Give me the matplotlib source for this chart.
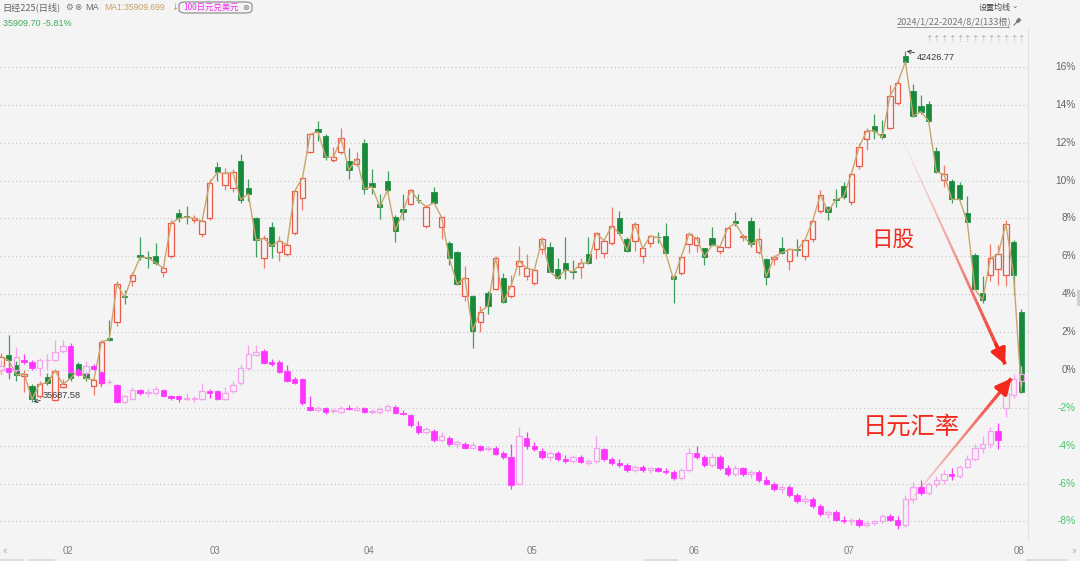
import numpy as np
import matplotlib
matplotlib.use('Agg')
import matplotlib.pyplot as plt
from matplotlib.collections import LineCollection
import matplotlib.transforms as mtransforms
from matplotlib.patches import FancyBboxPatch, Polygon, Rectangle

plt.rcParams['font.family'] = ['Noto Sans CJK SC', 'DejaVu Sans']

# ---------------- data (percent change vs. base) ----------------
nk_open = [0.0, 0.8, 0.26, -0.3, -0.85, -1.4, -0.35, -1.58, -0.88, -0.18,
           0.3, -0.18, -0.84, -0.7, 1.7, 2.55, 3.93, 4.71, 6.07, 5.97,
           6.0, 5.17, 6.0, 8.27, 8.12, 7.92, 7.2, 8.0, 10.7, 9.77,
           9.6, 11.05, 9.6, 8.0, 5.9, 7.57, 6.25, 6.12, 7.22, 9.07,
           11.53, 12.7, 12.35, 11.07, 11.53, 11.05, 10.88, 11.97, 9.86, 8.76,
           9.98, 8.06, 8.48, 8.75, 9.0, 7.62, 9.4, 7.53, 6.72, 6.25,
           3.92, 3.91, 2.55, 4.08, 4.26, 4.84, 3.9, 5.49, 4.96, 4.6,
           6.39, 6.51, 5.32, 5.63, 5.25, 5.42, 6.11, 6.37, 6.16, 6.72,
           8.0, 6.9, 6.83, 6.0, 6.72, 7.04, 7.07, 4.96, 5.14, 6.63,
           6.6, 6.42, 6.95, 6.28, 6.51, 7.87, 7.0, 7.88, 6.25, 5.85,
           5.85, 6.42, 5.77, 6.37, 6.0, 6.9, 8.4, 8.59, 9.05, 9.71,
           8.89, 10.77, 12.18, 12.88, 12.46, 12.76, 14.11, 16.58, 14.75, 13.94,
           14.04, 11.58, 10.03, 10.0, 9.77, 8.27, 6.07, 4.08, 5.02, 5.31,
           5.02, 6.77, 3.08]
nk_high = [0.9, 1.85, 0.45, 0.0, -0.75, -0.6, -0.18, 0.05, -0.5, 0.0,
           0.4, -0.1, -0.45, 1.6, 2.64, 4.68, 4.2, 5.2, 7.04, 6.3,
           6.7, 5.45, 7.9, 8.48, 8.66, 8.2, 7.95, 10.1, 10.98, 10.65,
           10.6, 11.4, 10.1, 8.1, 7.15, 7.8, 7.05, 6.75, 9.5, 10.2,
           12.5, 13.16, 12.45, 11.8, 12.76, 11.7, 11.5, 12.2, 10.6, 9.3,
           10.5, 8.2, 9.3, 9.55, 9.3, 8.7, 9.65, 8.1, 6.8, 6.3,
           5.5, 3.95, 3.4, 4.15, 6.0, 5.1, 5.0, 6.55, 6.1, 5.3,
           7.04, 6.75, 5.9, 7.0, 5.8, 5.9, 7.0, 7.3, 6.9, 8.62,
           8.4, 7.0, 7.8, 6.5, 7.15, 7.3, 7.78, 4.96, 6.05, 7.3,
           7.05, 6.45, 7.53, 6.55, 7.55, 8.36, 7.2, 8.1, 7.5, 5.9,
           6.05, 7.0, 6.45, 6.9, 6.9, 7.9, 9.5, 8.65, 9.54, 9.95,
           10.4, 12.0, 12.8, 13.5, 13.2, 15.05, 15.3, 16.86, 15.1, 14.5,
           14.2, 11.75, 10.8, 10.1, 9.95, 9.19, 6.2, 4.96, 6.65, 6.6,
           7.92, 6.85, 3.2]
nk_low = [-0.2, -0.5, -0.6, -1.15, -1.70, -1.5, -0.8, -1.65, -0.95, -0.6,
          -0.2, -0.6, -1.3, -0.9, 1.55, 2.3, 3.5, 4.45, 5.8, 5.4,
          5.55, 4.93, 5.9, 7.83, 7.73, 7.75, 7.0, 7.9, 9.96, 9.5,
          9.4, 8.8, 8.9, 5.98, 5.37, 5.9, 5.77, 6.0, 7.15, 8.45,
          11.45, 12.1, 11.1, 11.0, 11.4, 10.1, 10.75, 9.3, 9.3, 7.96,
          9.4, 6.78, 7.9, 8.7, 8.8, 7.5, 8.75, 6.9, 5.54, 4.5,
          3.66, 1.15, 2.02, 2.96, 4.2, 3.55, 3.8, 5.0, 4.75, 4.5,
          6.1, 5.15, 4.8, 4.8, 4.8, 4.84, 5.6, 5.85, 5.9, 6.6,
          7.15, 6.25, 6.3, 5.65, 6.5, 6.7, 6.1, 3.56, 5.0, 6.2,
          6.25, 5.54, 6.55, 6.1, 6.45, 7.6, 6.8, 6.5, 6.15, 4.49,
          5.55, 6.15, 5.3, 6.0, 5.8, 6.75, 8.3, 7.9, 8.6, 9.05,
          8.7, 10.6, 11.6, 12.2, 12.2, 12.7, 14.0, 16.2, 13.35, 13.5,
          13.1, 10.4, 9.68, 8.8, 9.0, 7.8, 4.2, 3.56, 4.71, 4.5,
          4.43, 3.96, -1.23]
nk_close = [0.7, 0.5, -0.26, -0.2, -1.55, -0.75, -0.67, -0.04, -0.76, -0.44,
            0.0, -0.44, -0.53, 1.5, 1.6, 4.52, 3.84, 5.0, 5.95, 5.93,
            5.67, 5.37, 7.75, 8.0, 8.08, 8.0, 7.85, 9.9, 10.43, 10.38,
            10.43, 9.0, 9.3, 6.86, 6.95, 6.55, 6.83, 6.6, 9.45, 10.15,
            12.44, 12.58, 11.26, 11.23, 12.23, 10.56, 11.16, 9.56, 9.68, 8.62,
            9.5, 7.36, 8.36, 9.5, 8.95, 8.62, 8.83, 8.06, 5.9, 4.54,
            4.87, 2.08, 3.08, 3.39, 5.93, 3.6, 4.45, 5.77, 5.37, 5.28,
            6.9, 5.19, 4.84, 5.28, 5.19, 5.63, 5.67, 7.22, 6.83, 7.6,
            7.22, 6.3, 7.71, 6.42, 7.07, 7.0, 6.16, 4.78, 5.98, 7.18,
            6.95, 5.98, 6.6, 6.51, 7.48, 7.75, 7.07, 6.63, 6.9, 4.93,
            5.95, 6.2, 6.37, 6.33, 6.86, 7.87, 9.24, 8.36, 9.0, 9.15,
            10.35, 11.76, 12.63, 12.63, 12.28, 14.47, 15.17, 16.28, 13.41, 13.64,
            13.16, 10.47, 10.33, 9.01, 9.01, 7.83, 4.26, 3.7, 5.9, 6.11,
            7.71, 5.02, -1.15]

jp_open = [0.0, 0.1, 0.0, 0.5, 0.4, 0.1, 0.5, 0.53, 1.02, 1.27,
           0.0, -0.18, 0.21, -0.12, -0.65, -0.8, -1.67, -1.55, -1.06, -1.22,
           -1.23, -1.06, -1.37, -1.37, -1.52, -1.52, -1.55, -1.09, -1.09, -1.55,
           -1.09, -0.7, 0.09, 0.79, 1.02, 0.44, 0.4, -0.04, -0.49, -0.49,
           -1.94, -2.1, -2.0, -2.15, -2.2, -2.0, -2.1, -2.0, -2.2, -2.2,
           -2.1, -1.95, -2.25, -2.4, -2.95, -3.3, -3.2, -3.7, -3.6, -3.9,
           -3.9, -4.1, -4.0, -4.2, -4.1, -4.4, -4.6, -6.0, -3.6, -4.0,
           -4.3, -4.6, -4.4, -4.7, -4.8, -4.6, -4.9, -4.8, -4.2, -4.7,
           -4.9, -5.0, -5.3, -5.1, -5.3, -5.2, -5.35, -5.4, -5.7, -5.3,
           -4.4, -4.6, -5.0, -4.6, -5.2, -5.5, -5.2, -5.5, -5.4, -5.8,
           -6.0, -6.3, -6.2, -6.6, -6.9, -6.8, -7.2, -7.6, -7.5, -7.9,
           -8.0, -7.9, -8.2, -8.1, -8.0, -7.7, -7.9, -8.2, -6.8, -6.2,
           -6.5, -6.0, -5.8, -5.5, -5.6, -5.1, -4.7, -4.1, -3.9, -3.2,
           -2.0, -1.3, -0.6]
jp_high = [0.5, 0.3, 1.2, 0.85, 0.5, 0.65, 0.85, 1.58, 1.58, 1.4,
           0.1, 0.45, 0.3, -0.05, -0.5, -0.75, -1.3, -0.9, -1.0, -1.0,
           -0.85, -1.0, -1.3, -1.3, -1.2, -1.35, -0.67, -1.0, -1.05, -0.9,
           -0.6, 0.3, 1.32, 1.3, 1.1, 0.6, 0.55, 0.25, -0.35, -0.4,
           -1.37, -1.9, -1.95, -2.0, -1.9, -1.85, -1.9, -1.95, -2.05, -1.95,
           -1.8, -1.85, -2.1, -2.3, -2.7, -3.0, -3.1, -3.3, -3.5, -3.7,
           -3.8, -3.8, -3.95, -4.0, -4.0, -4.3, -3.9, -3.0, -3.3, -3.8,
           -4.1, -4.3, -4.3, -4.5, -4.5, -4.5, -4.7, -3.5, -4.1, -4.6,
           -4.7, -4.9, -5.0, -5.0, -5.1, -5.1, -5.2, -5.3, -5.2, -4.1,
           -4.0, -4.5, -4.4, -4.5, -5.0, -5.0, -5.1, -5.3, -5.3, -5.6,
           -5.9, -6.1, -6.1, -6.5, -6.6, -6.7, -7.1, -7.4, -7.4, -7.7,
           -7.8, -7.8, -8.0, -7.9, -7.6, -7.6, -7.7, -6.6, -5.9, -5.8,
           -5.9, -5.6, -5.3, -5.2, -5.0, -4.5, -3.9, -3.5, -3.0, -2.8,
           -0.9, -0.2, 0.2]
jp_low = [-0.2, -0.3, -0.1, 0.3, 0.0, -0.3, 0.0, 0.45, 0.9, -0.2,
          -0.3, -0.3, 0.0, -0.8, -0.75, -1.75, -1.72, -1.6, -1.3, -1.45,
          -1.3, -1.45, -1.6, -1.7, -1.6, -1.7, -1.6, -1.5, -1.6, -1.6,
          -1.2, -0.8, 0.0, 0.75, 0.3, 0.2, -0.15, -0.65, -0.75, -1.85,
          -2.15, -2.2, -2.3, -2.25, -2.25, -2.1, -2.15, -2.25, -2.3, -2.3,
          -2.2, -2.3, -2.4, -3.0, -3.4, -3.4, -3.8, -3.8, -4.0, -4.1,
          -4.2, -4.2, -4.3, -4.3, -4.5, -4.7, -6.3, -6.1, -4.2, -4.3,
          -4.7, -4.8, -4.8, -4.9, -4.9, -4.9, -5.0, -4.9, -4.8, -5.0,
          -5.1, -5.4, -5.4, -5.4, -5.45, -5.4, -5.5, -5.8, -5.8, -5.4,
          -4.7, -5.1, -5.1, -5.3, -5.6, -5.6, -5.6, -5.7, -5.9, -6.1,
          -6.4, -6.5, -6.7, -7.0, -7.1, -7.3, -7.7, -7.8, -8.0, -8.1,
          -8.2, -8.3, -8.3, -8.2, -8.1, -8.0, -8.4, -8.3, -7.0, -6.6,
          -6.6, -6.2, -6.0, -5.8, -5.7, -5.2, -4.8, -4.4, -4.1, -4.2,
          -2.5, -1.5, -0.9]
jp_close = [0.2, -0.1, 0.7, 0.4, 0.1, 0.5, 0.55, 0.97, 1.27, -0.09,
            -0.26, 0.21, 0.04, -0.7, -0.63, -1.67, -1.4, -1.06, -1.23, -1.2,
            -1.02, -1.4, -1.5, -1.55, -1.5, -1.5, -1.09, -1.23, -1.55, -1.23,
            -0.79, 0.09, 0.83, 0.97, 0.35, 0.3, -0.09, -0.56, -0.67, -1.76,
            -2.11, -2.0, -2.2, -2.15, -2.0, -2.05, -2.0, -2.2, -2.15, -2.05,
            -1.9, -2.25, -2.35, -2.9, -3.3, -3.1, -3.7, -3.5, -3.9, -3.8,
            -4.1, -3.95, -4.25, -4.1, -4.45, -4.6, -6.1, -3.5, -4.0, -4.2,
            -4.6, -4.4, -4.7, -4.8, -4.6, -4.85, -4.8, -4.1, -4.7, -4.9,
            -5.0, -5.3, -5.1, -5.3, -5.2, -5.35, -5.4, -5.7, -5.3, -4.4,
            -4.6, -5.0, -4.6, -5.2, -5.5, -5.2, -5.5, -5.4, -5.8, -6.0,
            -6.3, -6.2, -6.6, -6.9, -6.8, -7.2, -7.6, -7.5, -7.9, -8.0,
            -7.9, -8.2, -8.1, -8.0, -7.7, -7.9, -8.2, -6.8, -6.2, -6.5,
            -6.0, -5.8, -5.5, -5.6, -5.1, -4.7, -4.1, -3.9, -3.2, -3.7,
            -1.2, -0.5, -0.2]

month_idx = [8, 27, 47, 68, 89, 109, 131]
month_lbl = ['02', '03', '04', '05', '06', '07', '08']
yticks = [16, 14, 12, 10, 8, 6, 4, 2, 0, -2, -4, -6, -8]

nk_high_idx, nk_high_val, nk_high_txt = 117, 16.86, '42426.77'
nk_low_idx, nk_low_val, nk_low_txt = 4, -1.70, '35687.58'

arrow_nk = [(115.9, 12.8), (129.9, 0.3)]
arrow_jp = [(115.4, -8.0), (130.7, -0.45)]

# ---------------- figure ----------------
W, H = 1080, 561
fig = plt.figure(figsize=(W / 100, H / 100), dpi=100)
BG = '#F4F4F4'
fig.patch.set_facecolor(BG)

lp, rp, tp, bp = 0, 1028, 28, 540
ax = fig.add_axes([lp / W, 1 - bp / H, (rp - lp) / W, (bp - tp) / H])
ax.set_facecolor(BG)
ax.set_xlim(-0.13, 132.86)
ax.set_ylim(-8.98, 18.06)
for s in ['top', 'left', 'bottom']:
    ax.spines[s].set_visible(False)
ax.spines['right'].set_color('#E2E2E2')
ax.spines['right'].set_linewidth(0.8)
ax.set_xticks([])
ax.set_yticks([])

for v in yticks:
    ax.axhline(v, color='#C6C6C6', lw=0.8, ls=(0, (1, 2.5)), zorder=0)

def draw_candles(o, h, l, c, up_col, dn_col, up_wick, dn_wick, z, lw=0.9):
    o, h, l, c = map(np.asarray, (o, h, l, c))
    xs = np.arange(len(o))
    upm = c >= o
    top = np.maximum(o, c)
    bot = np.minimum(o, c)
    wc = [up_wick if u else dn_wick for u in upm]
    ax.vlines(xs, top, h, colors=wc, lw=lw, zorder=z)
    ax.vlines(xs, l, bot, colors=wc, lw=lw, zorder=z)
    hgt = np.maximum(top - bot, 0.04)
    ax.bar(xs[upm], hgt[upm], bottom=bot[upm], width=0.7,
           facecolor='none', edgecolor=up_col, lw=lw, zorder=z + 0.1)
    ax.bar(xs[~upm], hgt[~upm], bottom=bot[~upm], width=0.7,
           facecolor=dn_col, edgecolor=dn_col, lw=lw * 0.6, zorder=z + 0.1)

# Nikkei candles
draw_candles(nk_open, nk_high, nk_low, nk_close,
             '#EE5A48', '#178A3C', '#F07A6A', '#3E9E5C', 2)
ax.plot(np.arange(len(nk_close)), nk_close, color='#C9A66E', lw=1.0, zorder=4)

# JPY candles
draw_candles(jp_open, jp_high, jp_low, jp_close,
             '#F5A3F1', '#FF35FF', '#F5A3F1', '#FF35FF', 5)

# extreme labels
ax.annotate(nk_high_txt, xy=(nk_high_idx, nk_high_val), xytext=(8.5, -5),
            textcoords='offset points', fontsize=6.6, color='#3A3A3A',
            family='Liberation Sans', va='center', ha='left',
            arrowprops=dict(arrowstyle='->', color='#333333', lw=0.6,
                            shrinkA=0, shrinkB=1), zorder=8)
ax.annotate(nk_low_txt, xy=(nk_low_idx, nk_low_val), xytext=(8, 4.5),
            textcoords='offset points', fontsize=6.6, color='#3A3A3A',
            family='Liberation Sans', va='center', ha='left',
            arrowprops=dict(arrowstyle='->', color='#333333', lw=0.6,
                            shrinkA=0, shrinkB=1), zorder=8)

# red trend arrows with fading tails
RED = '#F2281C'
def fade_arrow(p0, p1, lw_max):
    n = 60
    t = np.linspace(0, 1, n + 1)
    xs = p0[0] + (p1[0] - p0[0]) * t
    ys = p0[1] + (p1[1] - p0[1]) * t
    segs = [[(xs[k], ys[k]), (xs[k + 1], ys[k + 1])] for k in range(n)]
    al = np.linspace(0.05, 1.0, n) ** 1.3
    cols = [(0.95, 0.16, 0.11, a) for a in al]
    lws = np.linspace(0.6, lw_max, n)
    lc = LineCollection(segs, colors=cols, linewidths=lws, zorder=9,
                        capstyle='butt')
    ax.add_collection(lc)
    pb = (xs[-6], ys[-6])
    ax.annotate('', xy=p1, xytext=pb,
                arrowprops=dict(arrowstyle='-|>,head_length=0.9,head_width=0.45',
                                color=RED, lw=lw_max, shrinkA=0, shrinkB=0,
                                mutation_scale=10), zorder=10)

fade_arrow(arrow_nk[0], arrow_nk[1], 2.6)
fade_arrow(arrow_jp[0], arrow_jp[1], 2.6)

ax.text(115.3, 6.9, '日股', color=RED, fontsize=15.5, ha='center', va='center', zorder=10)
ax.text(117.7, -3.0, '日元汇率', color=RED, fontsize=17.5, ha='center', va='center', zorder=10)

# right axis labels
trans = mtransforms.blended_transform_factory(fig.transFigure, ax.transData)
for v in yticks:
    col = '#666666' if v >= 0 else '#45C46A'
    ax.text(1076 / W, v, f'{v}%', transform=trans, ha='right', va='center',
            fontsize=7.3, color=col, family='Liberation Sans', clip_on=False)

# month labels
transx = mtransforms.blended_transform_factory(ax.transData, fig.transFigure)
for i, lb in zip(month_idx, month_lbl):
    ax.text(i - 0.05, 1 - 551 / H, lb, transform=transx, ha='left', va='center',
            fontsize=7, color='#808080', family='Liberation Sans', clip_on=False)

def ftxt(px, py, s, **kw):
    fig.text(px / W, 1 - py / H, s, **kw)

ftxt(5, 551, '«', fontsize=7, color='#AAAAAA', ha='center', va='center')
ftxt(1074, 551, '»', fontsize=7, color='#AAAAAA', ha='center', va='center')

# small scrollbar marks
fig.patches.append(Rectangle((1077 / W, 1 - 306 / H), 3 / W, 16 / H,
                             transform=fig.transFigure, fc='#D0D0D0', ec='none'))
for x0, w0 in [(0, 24), (28, 27), (644, 34), (1026, 41)]:
    fig.patches.append(Rectangle((x0 / W, 0), w0 / W, 2 / H,
                                 transform=fig.transFigure, fc='#DDDDDD', ec='none'))

# header
GR = '#666666'
ftxt(2, 7, '日经225(日线)', fontsize=6.6, color=GR, va='center')
ftxt(65, 7, '⚙', fontsize=6.3, color='#777777', va='center', family='DejaVu Sans')
ftxt(74, 7, '⊗', fontsize=6.3, color='#777777', va='center', family='DejaVu Sans')
ftxt(85, 7, 'MA', fontsize=6.6, color=GR, va='center', family='Liberation Sans')
ftxt(104, 7, 'MA1:35909.699', fontsize=6.2, color='#C9A064', va='center', family='Liberation Sans')
ftxt(171, 7, '↓', fontsize=6.2, color='#C9A064', va='center', family='DejaVu Sans')
box = FancyBboxPatch((179 / W, 1 - 13 / H), 73 / W, 11 / H,
                     boxstyle='round,pad=0,rounding_size=0.006',
                     transform=fig.transFigure, fill=False, ec='#888888', lw=0.8)
fig.patches.append(box)
ftxt(183, 7, '100日元兑美元', fontsize=6.0, color='#F02CF0', va='center')
ftxt(242.5, 7, '⊗', fontsize=6.0, color='#777777', va='center', family='DejaVu Sans')
ftxt(3, 23, '35909.70 -5.81%', fontsize=6.5, color='#3DAA5A', va='center', family='Liberation Sans')

ftxt(979, 7, '设置均线', fontsize=5.8, color='#444444', va='center')
ftxt(1011, 6, '⌄', fontsize=5.5, color='#666666', va='center', family='DejaVu Sans')
ftxt(897, 21.5, '2024/1/22-2024/8/2(133根)', fontsize=6.6, color='#777777', va='center')
fig.add_artist(plt.Line2D([897 / W, 1009 / W], [1 - 27 / H, 1 - 27 / H],
                          transform=fig.transFigure, color='#888888', lw=0.6))
# pin icon (no installed glyph) drawn as a small shape
fig.add_artist(plt.Line2D([1014 / W, 1017 / W], [1 - 25 / H, 1 - 22 / H],
                          transform=fig.transFigure, color='#777777', lw=0.8))
fig.patches.append(Polygon([[1016 / W, 1 - 21 / H], [1019 / W, 1 - 18 / H],
                            [1021 / W, 1 - 20 / H], [1018 / W, 1 - 23 / H]],
                           closed=True, transform=fig.transFigure,
                           fc='#777777', ec='#777777', lw=0.5))

for i in range(120, 133):
    ax.text(i, 1 - 40 / H, '⇡', transform=transx, ha='center', va='center',
            fontsize=6.5, color='#B5B5B5', family='DejaVu Sans', clip_on=False)

fig.savefig('out.png', dpi=100, facecolor=BG)
